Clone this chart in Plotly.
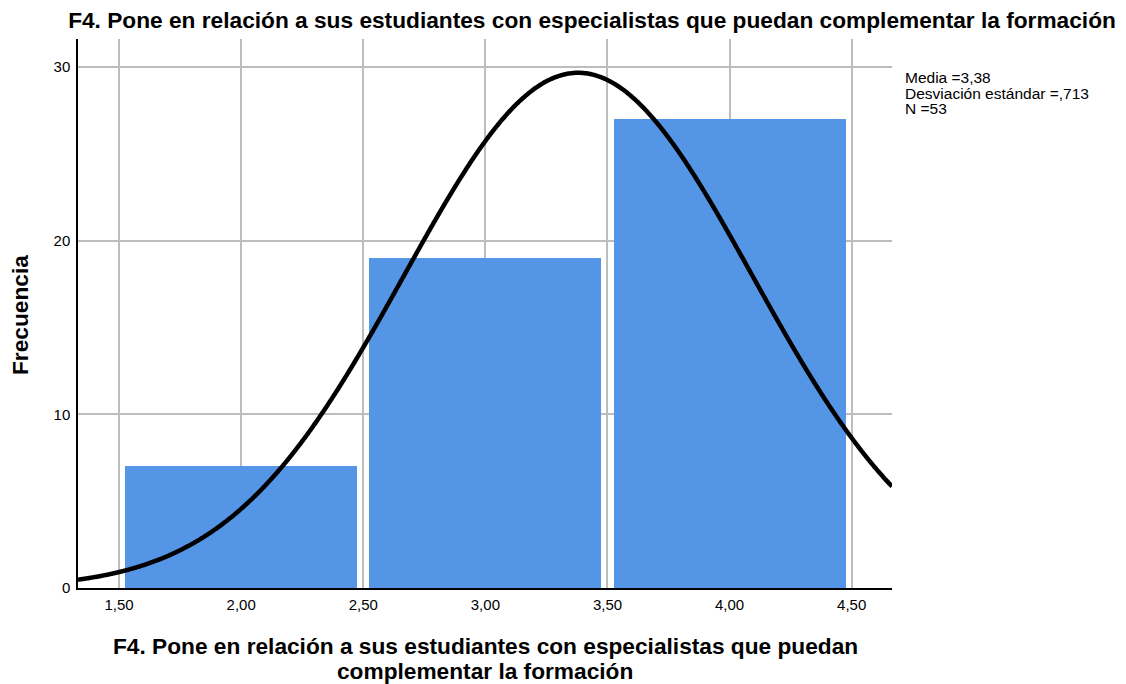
import numpy as np
import plotly.graph_objects as go

# Data
bin_centers = [2.0, 3.0, 4.0]
frequencies = [7, 19, 27]
bin_width = [1.0]
mean_val = [3.38]
sd_val = [0.713]
n_val = [53]
x_ticks = [1.5, 2.0, 2.5, 3.0, 3.5, 4.0, 4.5]
x_tick_labels = ["1,50", "2,00", "2,50", "3,00", "3,50", "4,00", "4,50"]
y_ticks = [0, 10, 20, 30]
stats_lines = ["Media =3,38", "Desviación estándar =,713", "N =53"]
title_text = "F4. Pone en relación a sus estudiantes con especialistas que puedan complementar la formación"
xtitle_lines = ["F4. Pone en relación a sus estudiantes con especialistas que puedan",
                "complementar la formación"]
ytitle_text = "Frecuencia"

X_RANGE = [1.332, 4.665]
Y_RANGE = [0, 31.6]
FONT = "Arial, 'Liberation Sans', sans-serif"

# Normal curve scaled to counts
xs = np.linspace(X_RANGE[0], X_RANGE[1], 600)
m, s, n, w = mean_val[0], sd_val[0], n_val[0], bin_width[0]
ys = n * w / (s * np.sqrt(2 * np.pi)) * np.exp(-0.5 * ((xs - m) / s) ** 2)

fig = go.Figure()
fig.add_trace(go.Bar(
    x=bin_centers, y=frequencies, width=0.95,
    marker=dict(color="#5595E5", line=dict(width=0)),
    showlegend=False, hoverinfo="skip",
))
fig.add_trace(go.Scatter(
    x=xs, y=ys, mode="lines",
    line=dict(color="black", width=4.5, shape="spline"),
    showlegend=False, hoverinfo="skip",
))

W, H = 1126, 684
L, R, T, B = 78, 892, 39, 588
TITLE_SIZE = 22.7

fig.update_layout(
    width=W, height=H,
    margin=dict(l=L, r=W - R, t=T, b=H - B, pad=0),
    paper_bgcolor="white", plot_bgcolor="white",
    separators=",.",
    font=dict(family=FONT, size=15, color="black"),
    bargap=0,
    title=dict(text="<b>" + title_text + "</b>", x=592 / W, xref="container",
               xanchor="center", y=1 - 20 / H, yref="container", yanchor="middle",
               font=dict(size=TITLE_SIZE, family=FONT, color="black")),
    xaxis=dict(range=X_RANGE, tickvals=x_ticks, ticktext=x_tick_labels,
               showgrid=True, gridcolor="#BDBDBD", gridwidth=1.5,
               showline=True, linecolor="black", linewidth=1.5,
               ticks="outside", ticklen=2, tickcolor="rgba(0,0,0,0)",
               zeroline=False, tickfont=dict(size=15)),
    yaxis=dict(range=Y_RANGE, tickvals=y_ticks,
               showgrid=True, gridcolor="#BDBDBD", gridwidth=1.5,
               showline=True, linecolor="black", linewidth=1.5,
               ticks="outside", ticklen=3, tickcolor="rgba(0,0,0,0)",
               zeroline=False, tickfont=dict(size=15)),
)

annotations = []
# x-axis title, two lines
for i, line in enumerate(xtitle_lines):
    annotations.append(dict(
        text="<b>" + line + "</b>", xref="paper", yref="paper",
        x=0.5, y=-(646 + 25 * i - B) / (B - T),
        xanchor="center", yanchor="middle", showarrow=False,
        font=dict(size=TITLE_SIZE, family=FONT, color="black")))
# y-axis title
annotations.append(dict(
    text="<b>" + ytitle_text + "</b>", xref="paper", yref="paper",
    x=-(L - 20) / (R - L), y=(B - 315) / (B - T), textangle=-90,
    xanchor="center", yanchor="middle", showarrow=False,
    font=dict(size=TITLE_SIZE, family=FONT, color="black")))
# stats box
for i, line in enumerate(stats_lines):
    annotations.append(dict(
        text=line, xref="paper", yref="paper",
        x=(903 - L) / (R - L), y=(B - (77 + 16 * i)) / (B - T),
        xanchor="left", yanchor="middle", showarrow=False,
        font=dict(size=15.5, family=FONT, color="black")))
fig.update_layout(annotations=annotations)

fig.write_html("out.html", config={"displayModeBar": False},
               post_script="document.body.style.margin='0px';document.body.style.padding='0px';")
